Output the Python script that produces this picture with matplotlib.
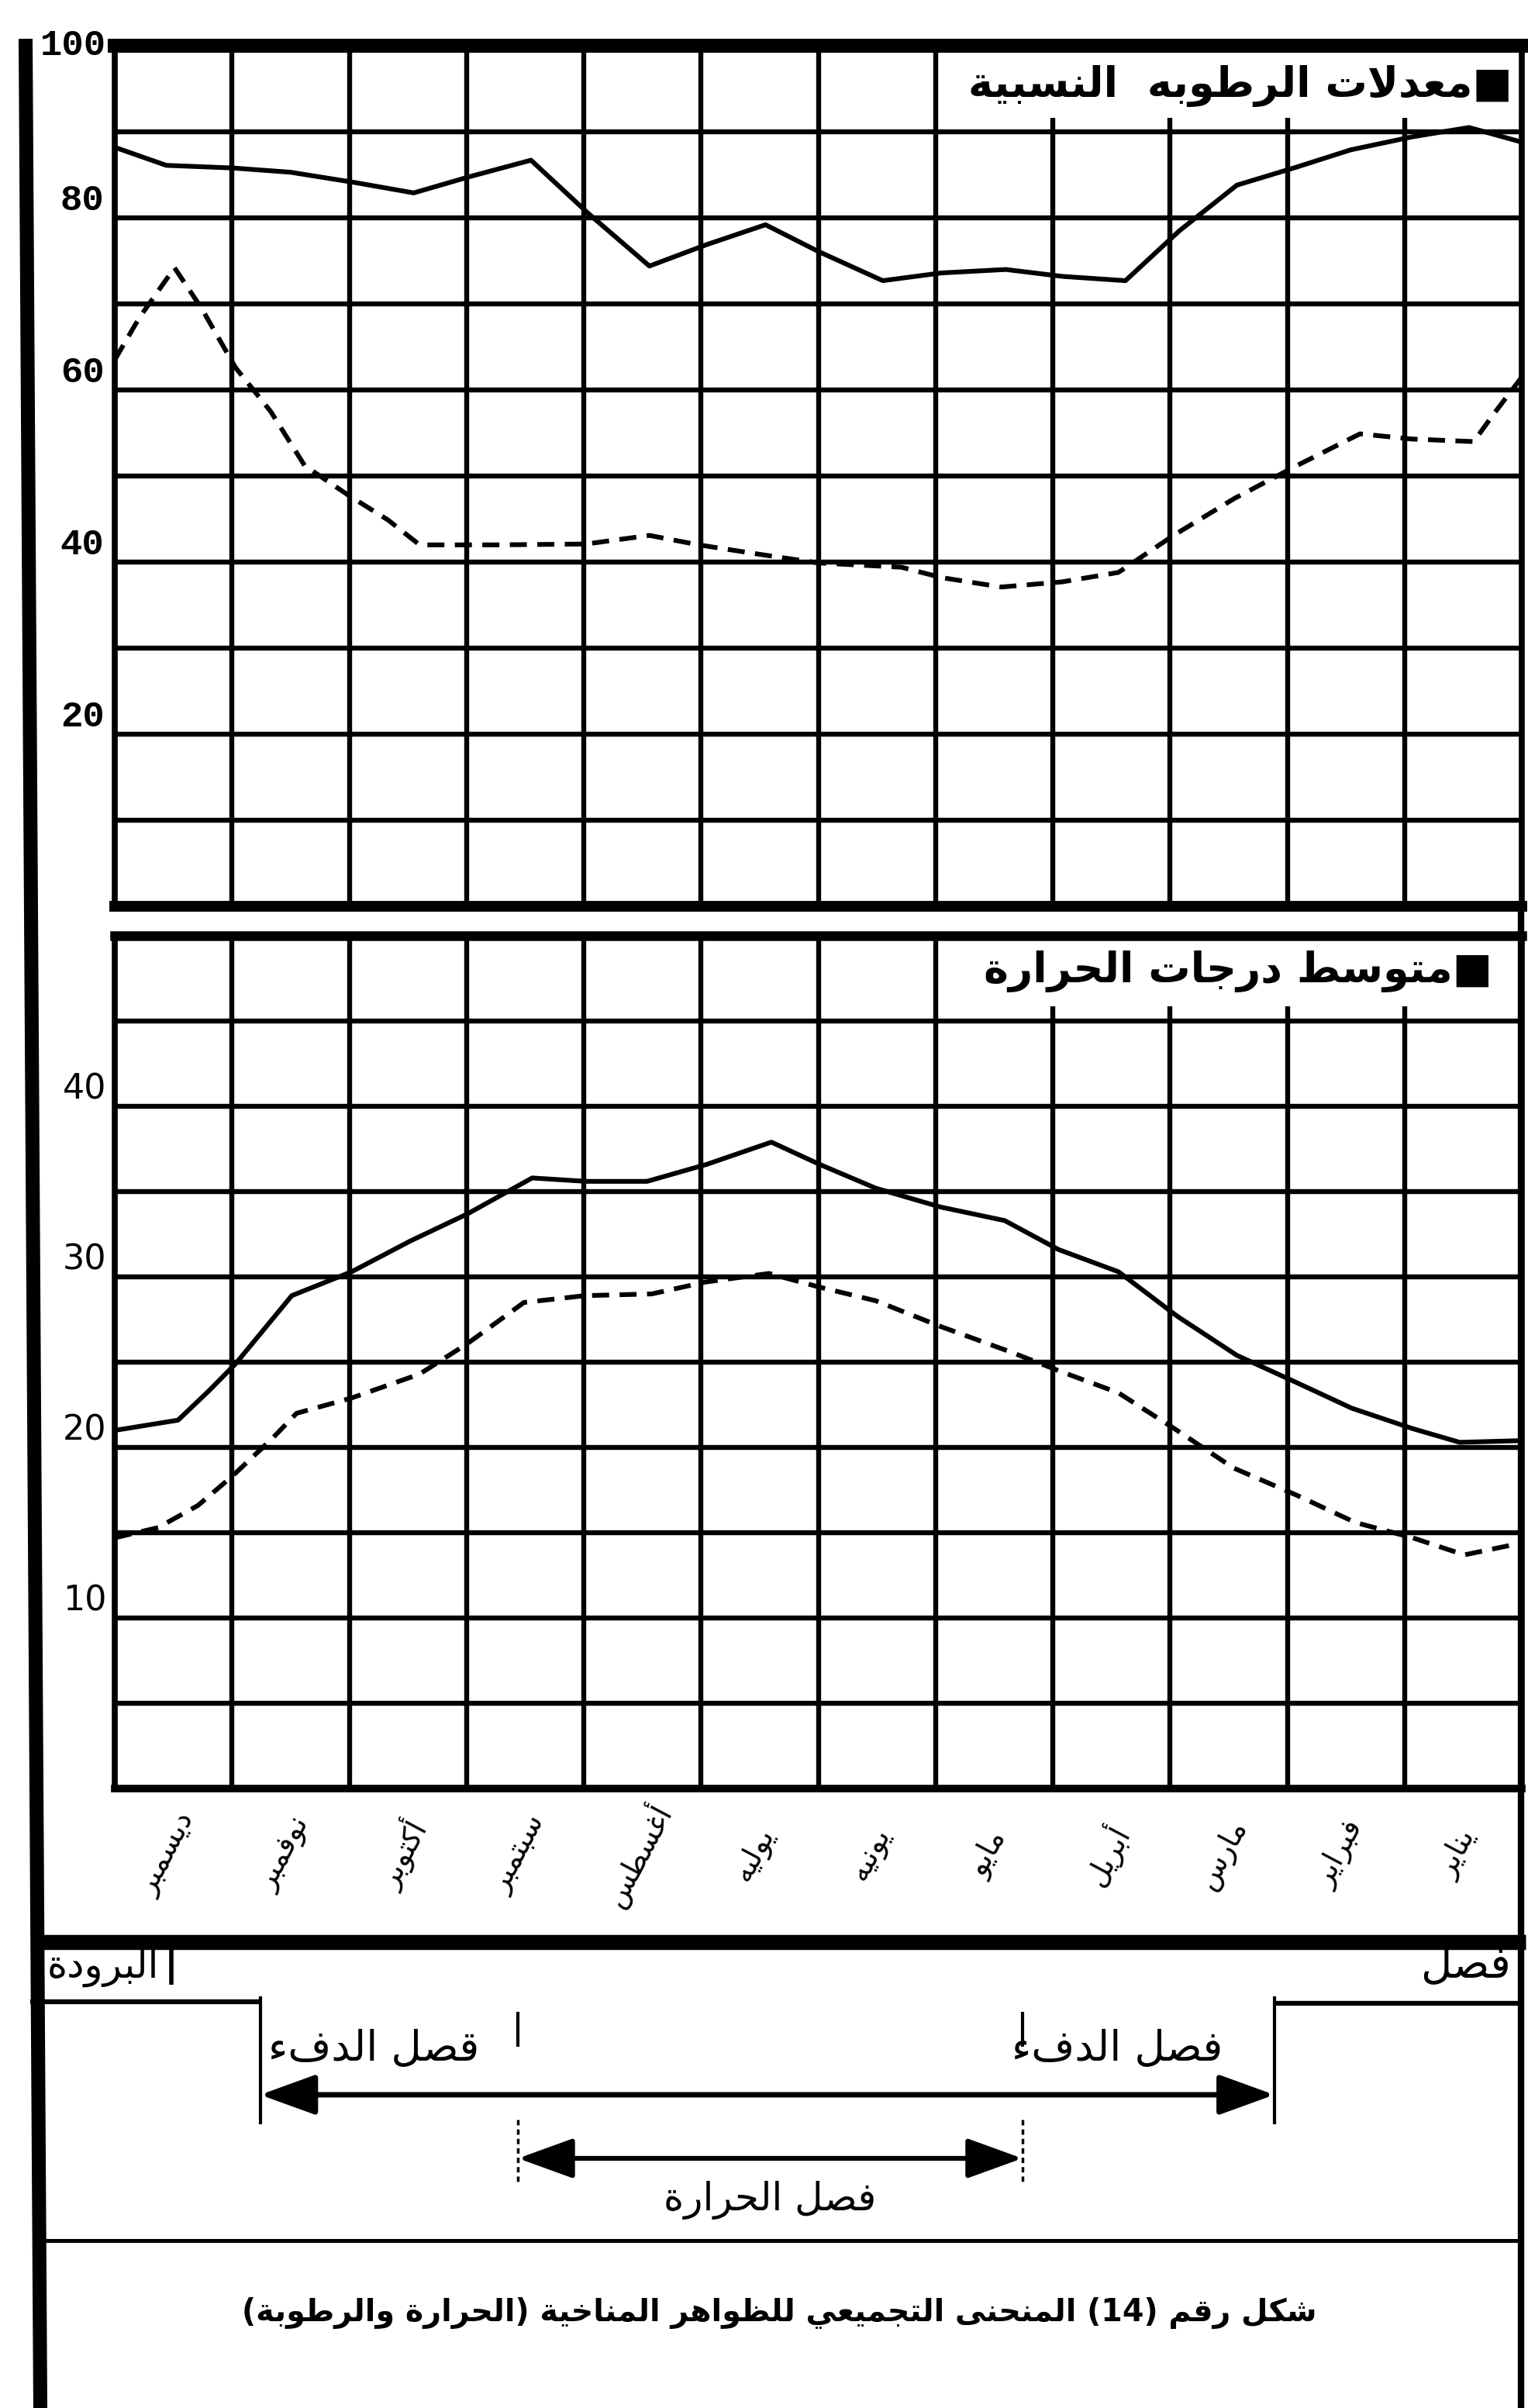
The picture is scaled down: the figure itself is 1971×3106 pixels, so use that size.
import numpy as np
import matplotlib.pyplot as plt
import matplotlib.transforms as mtransforms
from matplotlib.patches import Rectangle, FancyArrowPatch

plt.rcParams['font.family'] = ['DejaVu Sans']

# ---------------- data ----------------
months = ['ديسمبر', 'نوفمبر', 'أكتوبر', 'سبتمبر', 'أغسطس', 'يوليه',
          'يونيه', 'مايو', 'أبريل', 'مارس', 'فبراير', 'يناير']

# relative humidity (%), x in month units from the left axis
hum_hi_x = [0.0, 0.44, 1.0, 1.5, 2.05, 2.55, 3.03, 3.55, 4.04, 4.56, 5.05, 5.55,
            6.0, 6.55, 7.05, 7.6, 8.08, 8.62, 9.08, 9.57, 10.08, 10.54, 11.06, 11.55, 12.0]
hum_hi_y = [88.2, 86.1, 85.8, 85.3, 84.1, 82.9, 84.8, 86.7, 80.5, 74.4, 76.9, 79.2,
            76.1, 72.7, 73.6, 74.0, 73.2, 72.7, 78.5, 83.8, 85.9, 87.9, 89.4, 90.5, 88.8]
hum_lo_x = [0.0, 0.21, 0.51, 0.74, 1.03, 1.33, 1.62, 2.0, 2.33, 2.6, 3.26, 4.02, 4.56,
            4.98, 5.5, 6.0, 6.71, 7.05, 7.56, 8.08, 8.56, 9.03, 9.55, 10.08, 10.62,
            11.06, 11.59, 11.76, 12.0]
hum_lo_y = [63.5, 68.4, 74.2, 69.5, 62.6, 57.5, 51.2, 47.7, 44.9, 42.0, 42.0, 42.1, 43.1,
            42.0, 40.9, 39.9, 39.4, 38.2, 37.1, 37.7, 38.8, 43.1, 47.4, 51.2, 54.9,
            54.3, 54.0, 57.2, 61.5]

# mean temperature (C)
tmax_x = [0.0, 0.54, 0.8, 1.03, 1.51, 2.02, 2.52, 3.01, 3.56, 4.02, 4.54, 5.05, 5.6,
          6.01, 6.49, 7.04, 7.59, 8.05, 8.56, 9.06, 9.57, 10.08, 10.55, 11.07, 11.47, 12.0]
tmax_y = [21.0, 21.6, 23.3, 24.9, 28.9, 30.3, 32.1, 33.7, 35.8, 35.6, 35.6, 36.6, 37.9,
          36.6, 35.2, 34.1, 33.3, 31.6, 30.3, 27.7, 25.4, 23.8, 22.3, 21.1, 20.3, 20.4]
tmin_x = [0.0, 0.37, 0.71, 1.0, 1.34, 1.55, 2.02, 2.6, 3.01, 3.49, 4.01, 4.58, 5.04,
          5.58, 6.01, 6.49, 7.04, 7.64, 8.05, 8.56, 9.06, 9.54, 10.08, 10.58, 11.07,
          11.51, 12.0]
tmin_y = [14.7, 15.3, 16.6, 18.3, 20.5, 22.0, 22.9, 24.3, 26.1, 28.5, 28.9, 29.0, 29.7,
          30.2, 29.4, 28.6, 27.1, 25.6, 24.5, 23.2, 21.0, 18.8, 17.2, 15.6, 14.7,
          13.7, 14.4]

hum_ticks = [20, 40, 60, 80, 100]
temp_ticks = [10, 20, 30, 40]

# season limits (month units)
warm_season = (1.24, 9.89)   # فصل الدفء
hot_season = (3.44, 7.74)    # فصل الحرارة
cold_bar = 0.48


# ---------------- simple arabic shaping (matplotlib has no shaper) ----------------
_AR = {
    'ء': (0xFE80, 1), 'آ': (0xFE81, 2), 'أ': (0xFE83, 2), 'ؤ': (0xFE85, 2), 'إ': (0xFE87, 2),
    'ئ': (0xFE89, 4), 'ا': (0xFE8D, 2), 'ب': (0xFE8F, 4), 'ة': (0xFE93, 2), 'ت': (0xFE95, 4),
    'ث': (0xFE99, 4), 'ج': (0xFE9D, 4), 'ح': (0xFEA1, 4), 'خ': (0xFEA5, 4), 'د': (0xFEA9, 2),
    'ذ': (0xFEAB, 2), 'ر': (0xFEAD, 2), 'ز': (0xFEAF, 2), 'س': (0xFEB1, 4), 'ش': (0xFEB5, 4),
    'ص': (0xFEB9, 4), 'ض': (0xFEBD, 4), 'ط': (0xFEC1, 4), 'ظ': (0xFEC5, 4), 'ع': (0xFEC9, 4),
    'غ': (0xFECD, 4), 'ف': (0xFED1, 4), 'ق': (0xFED5, 4), 'ك': (0xFED9, 4), 'ل': (0xFEDD, 4),
    'م': (0xFEE1, 4), 'ن': (0xFEE5, 4), 'ه': (0xFEE9, 4), 'و': (0xFEED, 2), 'ى': (0xFEEF, 2),
    'ي': (0xFEF1, 4),
}
_LAM_ALEF = {'آ': 0xFEF5, 'أ': 0xFEF7, 'إ': 0xFEF9, 'ا': 0xFEFB}


def ar(text):
    chars = list(text)
    out = []
    i = 0
    while i < len(chars):
        c = chars[i]
        if c not in _AR:
            out.append(c)
            i += 1
            continue
        prev = chars[i - 1] if i > 0 else None
        p = prev in _AR and _AR[prev][1] == 4
        if c == 'ل' and i + 1 < len(chars) and chars[i + 1] in _LAM_ALEF:
            out.append(chr(_LAM_ALEF[chars[i + 1]] + (1 if p else 0)))
            i += 2
            continue
        base, nf = _AR[c]
        nxt = chars[i + 1] if i + 1 < len(chars) else None
        q = nf == 4 and nxt in _AR and _AR[nxt][1] > 1
        if nf == 1:
            form = 0
        elif p and q:
            form = 3
        elif p:
            form = 1
        elif q:
            form = 2
        else:
            form = 0
        out.append(chr(base + form))
        i += 1
    out = [{'(': ')', ')': '('}.get(c, c) for c in out[::-1]]
    res, run = [], []
    for c in out:
        if c.isdigit():
            run.append(c)
        else:
            res.extend(run[::-1])
            run = []
            res.append(c)
    res.extend(run[::-1])
    return ''.join(res)


# ---------------- figure ----------------
W, H = 1971, 3106
fig = plt.figure(figsize=(W / 100, H / 100), dpi=100)


def box(left, top, right, bottom):
    return [left / W, 1 - bottom / H, (right - left) / W, (bottom - top) / H]


ax_h = fig.add_axes(box(148, 59, 1963, 1169))
ax_t = fig.add_axes(box(148, 1207, 1963, 2307))


def style_panel(ax, ymax, step, top_lw, bottom_lw):
    ax.set_xlim(0, 12)
    ax.set_ylim(0, ymax)
    ax.set_xticks(np.arange(0, 13))
    ax.set_yticks(np.arange(0, ymax + 1, step))
    ax.tick_params(length=0, labelbottom=False, labelleft=False)
    ax.grid(True, color='black', lw=4.6)
    ax.set_axisbelow(True)
    for s in ax.spines.values():
        s.set_linewidth(5.5)
    ax.spines['top'].set_linewidth(top_lw)
    ax.spines['bottom'].set_linewidth(bottom_lw)


style_panel(ax_h, 100, 10, 13, 10)
style_panel(ax_t, 50, 5, 9, 7)

dash = (0, (3.6, 2.2))
ax_h.plot(hum_hi_x, hum_hi_y, color='black', lw=4.4, zorder=3)
ax_h.plot(hum_lo_x, hum_lo_y, color='black', lw=4.4, ls=dash, zorder=3)
ax_t.plot(tmax_x, tmax_y, color='black', lw=4.4, zorder=3)
ax_t.plot(tmin_x, tmin_y, color='black', lw=4.4, ls=dash, zorder=3)

# y labels sit just above their grid line
for v in hum_ticks:
    ax_h.text(-0.07 if v == 100 else -0.09, v, str(v), ha='right',
              va='center' if v == 100 else 'bottom',
              fontsize=34, fontweight='bold', family=['Liberation Mono', 'DejaVu Sans'])
for v in temp_ticks:
    ax_t.text(-0.07, v, str(v), ha='right', va='bottom', fontsize=32)

# legend captions on a white patch that hides the grid
ax_h.add_patch(Rectangle((7.15, 91.6), 4.85, 8.4, facecolor='white', edgecolor='none', zorder=1))
ax_h.text(11.92, 95.3, ar('■معدلات الرطوبه  النسبية'), ha='right', va='center',
          fontsize=39, fontweight='bold', zorder=4)
ax_t.add_patch(Rectangle((7.2, 45.85), 4.8, 4.15, facecolor='white', edgecolor='none', zorder=1))
ax_t.text(11.75, 47.9, ar('■متوسط درجات الحرارة'), ha='right', va='center',
          fontsize=39, fontweight='bold', zorder=4)

# ---------------- overlay for frame, month names and seasons ----------------
ov = fig.add_axes([0, 0, 1, 1], zorder=5)
ov.set_xlim(0, W)
ov.set_ylim(H, 0)
ov.axis('off')
tr = mtransforms.blended_transform_factory(ax_t.transData, ov.transData)

ov.plot([33, 52], [50, H], color='black', lw=13, solid_capstyle='butt')
ov.plot([1962, 1962], [1169, H], color='black', lw=6, solid_capstyle='butt')
ov.plot([40, 1968], [2505, 2505], color='black', lw=14, solid_capstyle='butt')
ov.plot([45, 1965], [2890, 2890], color='black', lw=3.6, solid_capstyle='butt')

for i, m in enumerate(months):
    ov.text(i + 0.45, 2392, ar(m), transform=tr, rotation=62, ha='center', va='center',
            fontsize=27)

kw = dict(transform=tr, color='black', clip_on=False, solid_capstyle='butt')
# cold season (split at both ends)
ov.plot([-0.72, warm_season[0]], [2582, 2582], lw=4.5, **kw)
ov.plot([cold_bar, cold_bar], [2510, 2560], lw=4, **kw)
ov.plot([warm_season[1], 12.0], [2584, 2584], lw=4.5, **kw)
ov.text(-0.1, 2538, ar('البرودة'), transform=tr, ha='center', va='center', fontsize=36)
ov.text(11.52, 2535, ar('فصل'), transform=tr, ha='center', va='center', fontsize=40)

# warm season
for x in warm_season:
    ov.plot([x, x], [2575, 2740], lw=3, **kw)
ov.add_patch(FancyArrowPatch((warm_season[0], 2702), (warm_season[1], 2702), transform=tr,
                             arrowstyle='<|-|>,head_length=4,head_width=1.45', mutation_scale=11,
                             lw=5, color='black', shrinkA=0, shrinkB=0, clip_on=False))
ov.text(2.21, 2643, ar('قصل الدفء'), transform=tr, ha='center', va='center', fontsize=39)
ov.text(8.55, 2643, ar('فصل الدفء'), transform=tr, ha='center', va='center', fontsize=39)

# hot season
for x in hot_season:
    ov.plot([x, x], [2595, 2640], lw=3, **kw)
    ov.plot([x, x], [2734, 2815], lw=2.5, ls=(0, (2, 1.5)), transform=tr, color='black',
            clip_on=False)
ov.add_patch(FancyArrowPatch((hot_season[0], 2784), (hot_season[1], 2784), transform=tr,
                             arrowstyle='<|-|>,head_length=4,head_width=1.45', mutation_scale=11,
                             lw=4.5, color='black', shrinkA=0, shrinkB=0, clip_on=False))
ov.text(sum(hot_season) / 2, 2838, ar('فصل الحرارة'), transform=tr, ha='center', va='center',
        fontsize=36)

ov.text(1005, 2983, ar('شكل رقم (14) المنحنى التجميعي للظواهر المناخية (الحرارة والرطوبة)'),
        ha='center', va='center', fontsize=28.5, fontweight='bold')

fig.savefig('out.png', dpi=100, facecolor='white')
